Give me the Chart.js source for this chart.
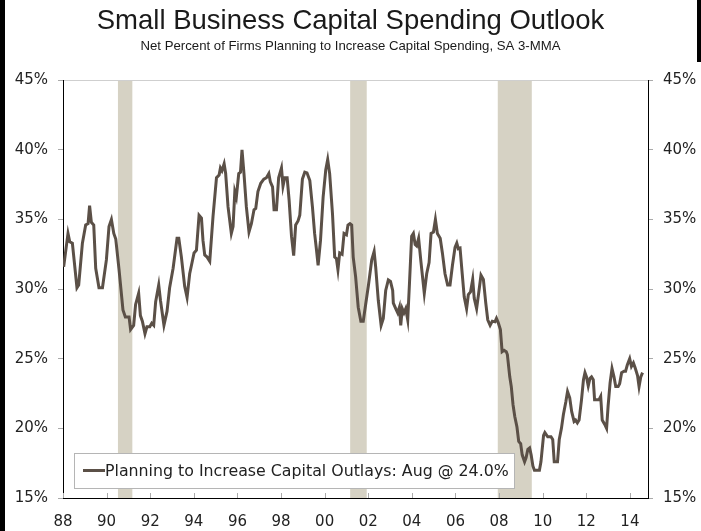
<!DOCTYPE html>
<html>
<head>
<meta charset="utf-8">
<script src="https://cdn.jsdelivr.net/npm/chart.js@4.4.1/dist/chart.umd.min.js"></script>
<style>
  html, body { margin: 0; padding: 0; background: #fff; }
  #wrap { position: relative; width: 701px; height: 531px; }
  #wrap::before { content: ''; position: absolute; left: 0; top: 0; width: 5px; height: 531px; background: #000; }
  #wrap::after { content: ''; position: absolute; right: 0; top: 0; width: 4px; height: 62px; background: #000; }
</style>
</head>
<body>
<div id="wrap"><canvas id="myChart" width="701" height="531"></canvas></div>
<script>
// decimal years, with the matching net percent
const years = [
  1988.03, 1988.23, 1988.31, 1988.43, 1988.64, 1988.72, 1988.89, 1989.04, 1989.15, 1989.22,
  1989.30, 1989.41, 1989.50, 1989.65, 1989.81, 1989.99, 1990.11, 1990.22, 1990.33, 1990.42,
  1990.57, 1990.75, 1990.86, 1991.03, 1991.10, 1991.24, 1991.33, 1991.47, 1991.55, 1991.64,
  1991.76, 1991.85, 1991.98, 1992.07, 1992.16, 1992.25, 1992.39, 1992.47, 1992.63, 1992.77,
  1992.89, 1993.05, 1993.23, 1993.31, 1993.43, 1993.58, 1993.69, 1993.81, 1993.89, 1994.01,
  1994.12, 1994.24, 1994.35, 1994.42, 1994.50, 1994.61, 1994.73, 1994.88, 1995.04, 1995.16,
  1995.22, 1995.29, 1995.39, 1995.46, 1995.57, 1995.72, 1995.80, 1995.88, 1995.95, 1996.06,
  1996.14, 1996.21, 1996.30, 1996.41, 1996.53, 1996.64, 1996.76, 1996.84, 1996.94, 1997.07,
  1997.21, 1997.33, 1997.44, 1997.51, 1997.61, 1997.68, 1997.79, 1997.89, 1998.02, 1998.09,
  1998.17, 1998.28, 1998.37, 1998.48, 1998.58, 1998.67, 1998.78, 1998.86, 1998.98, 1999.09,
  1999.19, 1999.32, 1999.44, 1999.54, 1999.62, 1999.70, 1999.81, 1999.93, 2000.05, 2000.14,
  2000.23, 2000.36, 2000.46, 2000.54, 2000.61, 2000.69, 2000.80, 2000.89, 2001.00, 2001.07,
  2001.16, 2001.24, 2001.31, 2001.42, 2001.54, 2001.66, 2001.77, 2001.88, 2002.01, 2002.16,
  2002.27, 2002.34, 2002.46, 2002.59, 2002.69, 2002.80, 2002.92, 2003.02, 2003.12, 2003.15,
  2003.26, 2003.35, 2003.43, 2003.49, 2003.56, 2003.64, 2003.72, 2003.81, 2003.89, 2003.99,
  2004.07, 2004.15, 2004.22, 2004.31, 2004.42, 2004.57, 2004.68, 2004.79, 2004.88, 2004.99,
  2005.08, 2005.17, 2005.30, 2005.40, 2005.52, 2005.64, 2005.75, 2005.86, 2005.98, 2006.06,
  2006.13, 2006.21, 2006.31, 2006.40, 2006.51, 2006.59, 2006.69, 2006.79, 2006.86, 2006.97,
  2007.08, 2007.17, 2007.28, 2007.39, 2007.48, 2007.59, 2007.69, 2007.81, 2007.88, 2007.96,
  2008.06, 2008.14, 2008.23, 2008.33, 2008.38, 2008.49, 2008.56, 2008.64, 2008.72, 2008.82,
  2008.90, 2008.99, 2009.06, 2009.17, 2009.24, 2009.32, 2009.40, 2009.47, 2009.55, 2009.62,
  2009.73, 2009.85, 2009.92, 2010.04, 2010.10, 2010.23, 2010.38, 2010.46, 2010.53, 2010.68,
  2010.76, 2010.86, 2010.95, 2011.06, 2011.14, 2011.24, 2011.33, 2011.44, 2011.51, 2011.59,
  2011.67, 2011.78, 2011.87, 2011.94, 2012.01, 2012.09, 2012.17, 2012.24, 2012.32, 2012.38,
  2012.47, 2012.58, 2012.66, 2012.73, 2012.84, 2012.93, 2013.00, 2013.09, 2013.18, 2013.27,
  2013.35, 2013.46, 2013.53, 2013.62, 2013.73, 2013.80, 2013.88, 2013.99, 2014.07, 2014.16,
  2014.24, 2014.35, 2014.42, 2014.50, 2014.58
];
const capexPlans = [
  31.6, 34.0, 33.4, 33.3, 30.1, 30.3, 33.3, 34.6, 34.7, 36.0,
  34.8, 34.6, 31.5, 30.1, 30.1, 32.1, 34.5, 35.0, 34.0, 33.6,
  31.4, 28.5, 28.0, 28.0, 27.1, 27.4, 28.9, 29.7, 28.1, 27.7,
  26.8, 27.3, 27.3, 27.55, 27.4, 29.1, 30.3, 29.2, 27.4, 28.4,
  30.1, 31.5, 33.65, 33.65, 32.3, 30.2, 29.4, 31.1, 31.7, 32.6,
  32.8, 35.3, 35.1, 33.5, 32.45, 32.3, 32.0, 35.2, 38.0, 38.2,
  38.7, 38.5, 39.0, 38.3, 35.9, 34.0, 34.5, 37.0, 36.6, 38.3,
  38.4, 40.0, 38.3, 35.9, 34.1, 34.7, 35.7, 35.8, 37.0, 37.6,
  37.9, 38.0, 38.3, 37.7, 37.35, 35.7, 35.7, 38.0, 38.7, 37.4,
  38.0, 38.0, 36.4, 33.8, 32.4, 34.6, 34.9, 35.3, 37.9, 38.4,
  38.35, 37.8, 35.9, 34.0, 32.9, 31.7, 33.5, 36.6, 38.55, 39.3,
  38.3, 35.4, 32.3, 32.2, 31.4, 32.6, 32.5, 34.0, 33.9, 34.6,
  34.7, 34.6, 32.3, 30.9, 28.7, 27.7, 27.7, 28.9, 30.3, 32.1,
  32.7, 31.6, 29.2, 27.4, 27.9, 29.9, 30.66, 30.55, 29.9, 29.0,
  28.6, 28.3, 28.7, 27.4, 28.6, 28.3, 28.6, 27.8, 30.4, 33.8,
  34.0, 33.2, 33.1, 33.65, 31.9, 29.7, 31.1, 31.9, 34.0, 34.1,
  35.0, 34.0, 33.65, 32.6, 31.1, 30.3, 30.3, 31.7, 33.0, 33.3,
  32.9, 32.95, 31.1, 29.45, 28.6, 29.6, 29.8, 30.7, 29.35, 28.6,
  29.9, 31.0, 30.7, 29.0, 27.8, 27.4, 27.7, 27.65, 27.9, 27.6,
  27.1, 25.5, 25.6, 25.5, 25.3, 23.7, 23.0, 21.7, 20.85, 20.1,
  19.06, 18.9, 18.1, 17.6, 17.9, 18.5, 18.6, 18.1, 17.3, 17.0,
  17.0, 17.0, 17.6, 19.5, 19.7, 19.4, 19.4, 19.2, 17.6, 17.6,
  19.2, 20.0, 21.0, 21.9, 22.65, 22.2, 21.2, 20.5, 20.6, 20.4,
  20.6, 22.05, 23.5, 24.0, 23.7, 23.05, 23.6, 23.7, 23.5, 22.05,
  22.05, 22.05, 22.3, 20.6, 20.3, 20.0, 21.6, 23.25, 24.3, 23.7,
  23.0, 23.0, 23.2, 24.0, 24.1, 24.1, 24.55, 25.0, 24.45, 24.7,
  24.35, 23.8, 23.0, 23.7, 24.0
];

const recessionStart = [1990.52, 2001.17, 2007.94];
const recessionEnd = [1991.18, 2001.93, 2009.50];

const xTicks = [1988, 1990, 1992, 1994, 1996, 1998, 2000, 2002, 2004, 2006, 2008, 2010, 2012, 2014];
const yTicks = [15, 20, 25, 30, 35, 40, 45];

const lineColor = '#5b5047';
const bandColor = '#d6d2c4';
const tickFont = { family: "'DejaVu Sans', Verdana, sans-serif", size: 15 };

const recessionBands = {
    id: 'recessionBands',
    beforeDraw(chart) {
        const { ctx, chartArea, scales: { x } } = chart;
        ctx.save();
        ctx.fillStyle = bandColor;
        recessionStart.forEach((s, i) => {
            const x0 = x.getPixelForValue(s);
            const x1 = x.getPixelForValue(recessionEnd[i]);
            ctx.fillRect(x0, chartArea.top, x1 - x0, chartArea.bottom - chartArea.top);
        });
        ctx.restore();
    }
};

// small ticks pointing up from the bottom axis, plus the boxed legend
const extras = {
    id: 'extras',
    afterDatasetsDraw(chart) {
        const { ctx, chartArea, scales: { x } } = chart;
        ctx.save();
        ctx.strokeStyle = '#aaa';
        ctx.lineWidth = 1;
        xTicks.forEach(v => {
            const px = Math.round(x.getPixelForValue(v)) + 0.5;
            ctx.beginPath();
            ctx.moveTo(px, chartArea.bottom);
            ctx.lineTo(px, chartArea.bottom - 5);
            ctx.stroke();
        });

        const bx = chartArea.left + 11, by = chartArea.bottom - 45, bw = 440, bh = 35;
        ctx.fillStyle = '#fff';
        ctx.fillRect(bx, by, bw, bh);
        ctx.strokeStyle = '#b5b5b5';
        ctx.strokeRect(bx + 0.5, by + 0.5, bw, bh);
        const my = by + bh / 2;
        ctx.strokeStyle = lineColor;
        ctx.lineWidth = 3;
        ctx.beginPath();
        ctx.moveTo(bx + 9, my);
        ctx.lineTo(bx + 31, my);
        ctx.stroke();
        ctx.fillStyle = '#222';
        ctx.font = "15.8px 'DejaVu Sans', Verdana, sans-serif";
        ctx.textBaseline = 'middle';
        ctx.fillText(chart.data.datasets[0].label, bx + 31, my + 1);
        ctx.restore();
    }
};

const fixWidth = w => scale => { scale.width = w; };

const ctx = document.getElementById('myChart').getContext('2d');
const chart = new Chart(ctx, {
    type: 'line',
    data: {
        datasets: [{
            label: 'Planning to Increase Capital Outlays: Aug @ 24.0%',
            data: years.map((yr, i) => ({ x: yr, y: capexPlans[i] })),
            borderColor: lineColor,
            borderWidth: 3,
            pointRadius: 0,
            tension: 0,
            yAxisID: 'y'
        }]
    },
    options: {
        responsive: false,
        animation: false,
        devicePixelRatio: 1,
        layout: { padding: { left: 0, right: 0, top: 0, bottom: 0 } },
        scales: {
            x: {
                type: 'linear',
                min: 1988,
                max: 2014.83,
                afterBuildTicks: scale => { scale.ticks = xTicks.map(v => ({ value: v })); },
                afterFit: scale => { scale.height = 33; },
                grid: { display: false },
                border: { display: true, color: '#000', width: 1 },
                ticks: {
                    color: '#222',
                    font: tickFont,
                    padding: 7,
                    maxRotation: 0,
                    callback: v => String(v % 100).padStart(2, '0')
                }
            },
            y: {
                position: 'left',
                min: 15,
                max: 45,
                afterBuildTicks: scale => { scale.ticks = yTicks.map(v => ({ value: v })); },
                afterFit: fixWidth(63),
                grid: {
                    color: c => (c.tick && c.tick.value === 45) ? '#cfcfcf' : 'rgba(0,0,0,0)',
                    tickColor: '#aaa',
                    tickLength: 5
                },
                border: { display: true, color: '#000', width: 1 },
                ticks: { color: '#222', font: tickFont, padding: 10, callback: v => v + '%' }
            },
            y2: {
                position: 'right',
                min: 15,
                max: 45,
                afterBuildTicks: scale => { scale.ticks = yTicks.map(v => ({ value: v })); },
                afterFit: fixWidth(53),
                grid: { drawOnChartArea: false, tickColor: '#aaa', tickLength: 5 },
                border: { display: true, color: '#000', width: 1 },
                ticks: { color: '#222', font: tickFont, padding: 10, callback: v => v + '%' }
            }
        },
        plugins: {
            legend: { display: false },
            tooltip: { enabled: false },
            title: {
                display: true,
                text: 'Small Business Capital Spending Outlook',
                color: '#1a1a1a',
                font: { family: "'Liberation Sans', Arial, sans-serif", size: 27.5, weight: 'normal' },
                padding: { top: 5, bottom: 0 }
            },
            subtitle: {
                display: true,
                text: 'Net Percent of Firms Planning to Increase Capital Spending, SA 3-MMA',
                color: '#1a1a1a',
                font: { family: "'Liberation Sans', Arial, sans-serif", size: 13.2, weight: 'normal' },
                padding: { top: 0, bottom: 26.4 }
            }
        }
    },
    plugins: [recessionBands, extras]
});
</script>
</body>
</html>
